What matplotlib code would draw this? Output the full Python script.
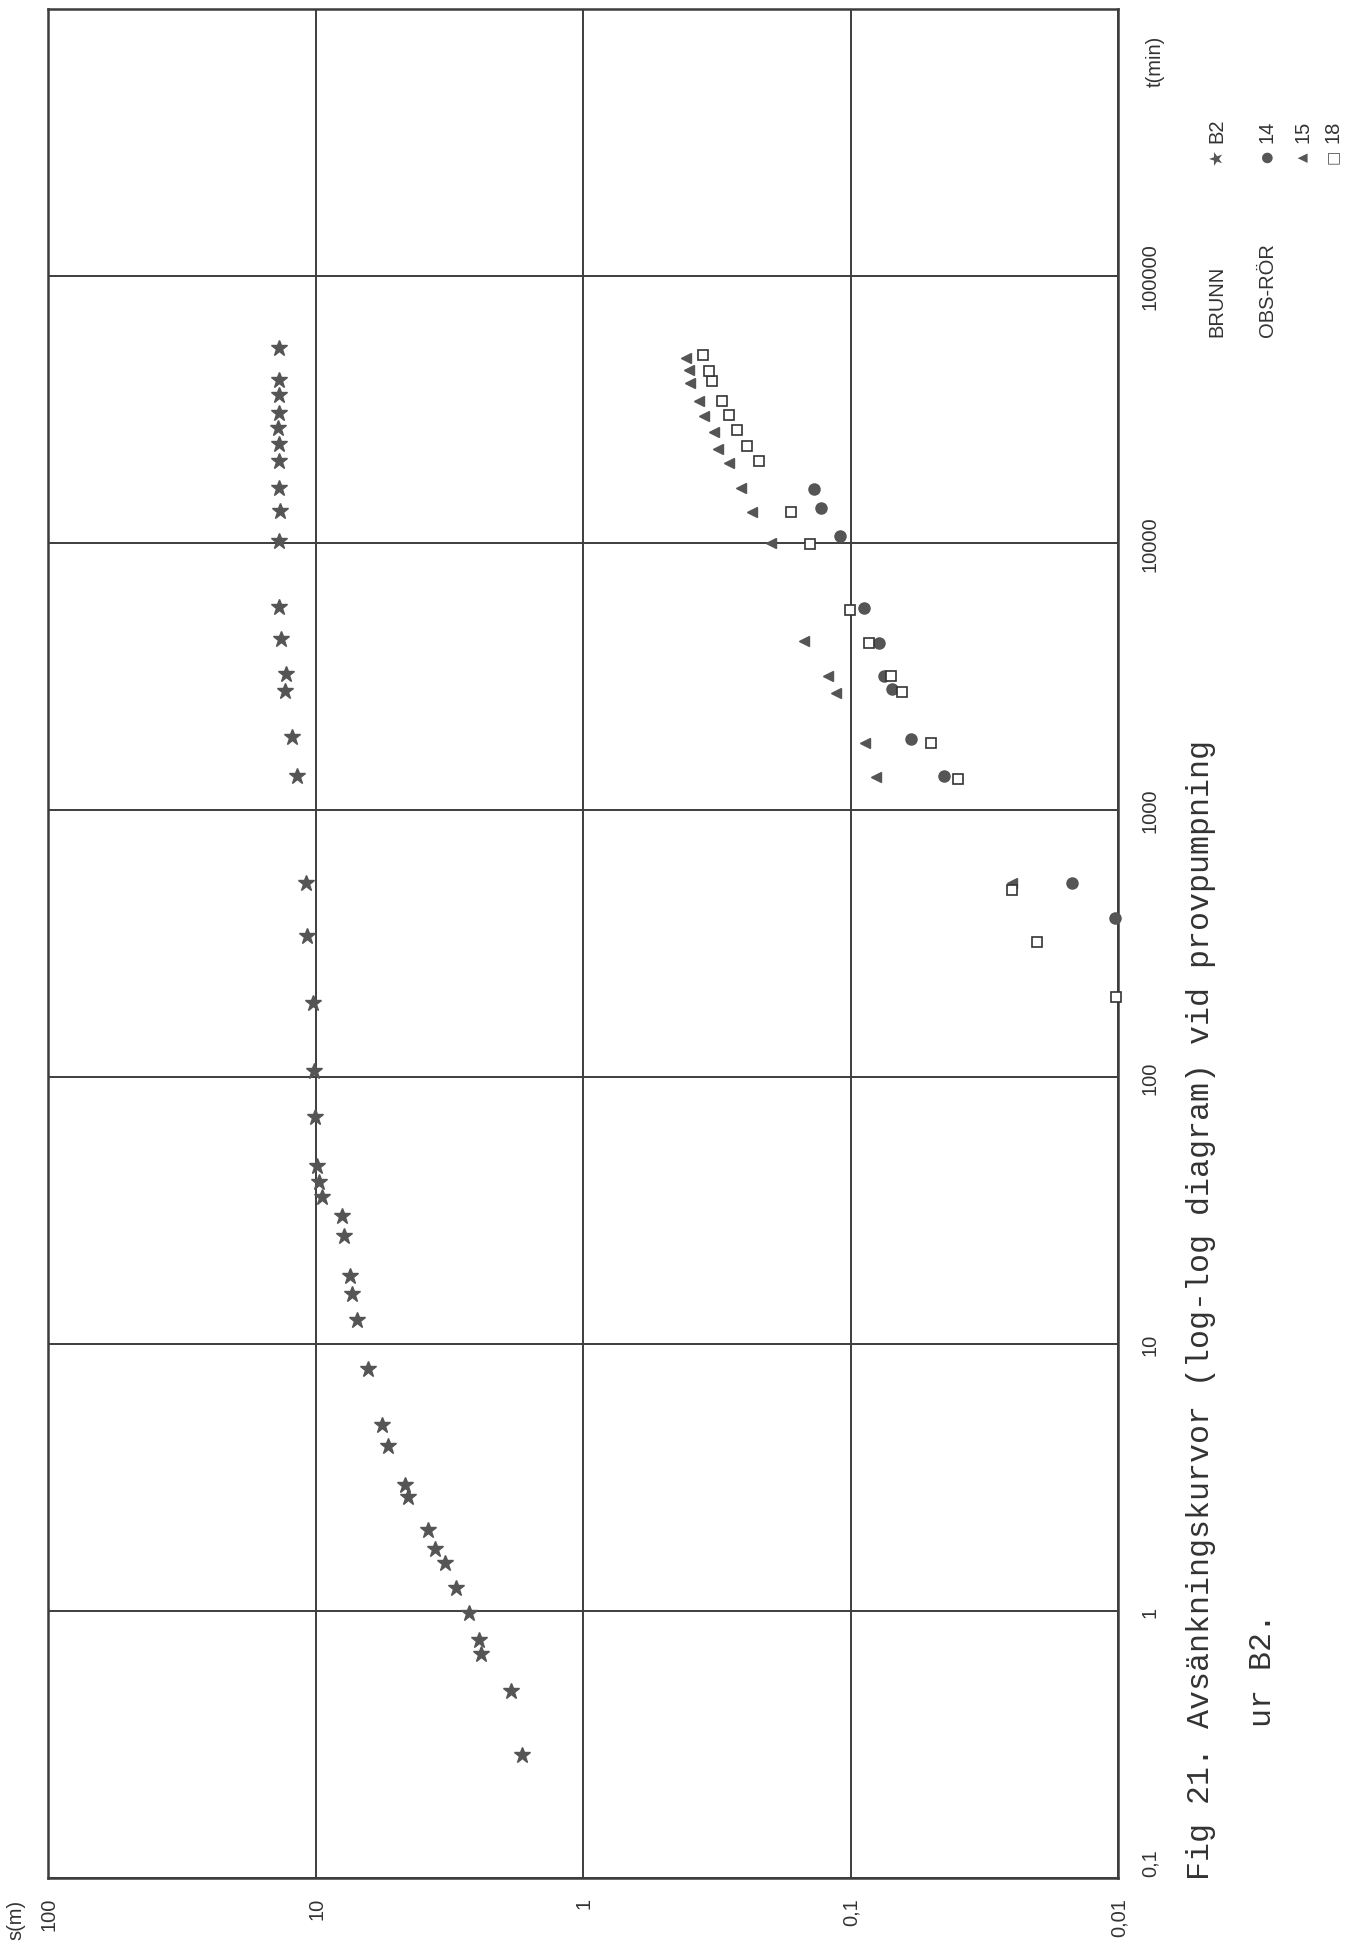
import numpy as np
import matplotlib
matplotlib.use('Agg')
import matplotlib.pyplot as plt

# drawdown s (m) vs time t (min)
b2_t = [0.29, 0.5, 0.69, 0.78, 0.98, 1.22, 1.51, 1.71, 2.01, 2.68, 2.96,
        4.15, 4.99, 8.04, 12.3, 15.4, 18.0, 25.4, 30.1, 35.4, 40.6, 46.6,
        71, 105, 190, 338, 533, 1343, 1880, 2795, 3230, 4378, 5770,
        10160, 13220, 16110, 20300, 23390, 26970, 30680, 35700, 40740, 53700]
b2_s = [1.69, 1.86, 2.41, 2.44, 2.66, 2.98, 3.27, 3.57, 3.80, 4.52, 4.63,
        5.37, 5.66, 6.35, 7.02, 7.28, 7.41, 7.80, 7.96, 9.46, 9.70, 9.90,
        10.07, 10.15, 10.24, 10.75, 10.85, 11.75, 12.24, 13.00, 12.92, 13.46, 13.70,
        13.73, 13.53, 13.70, 13.73, 13.70, 13.80, 13.70, 13.70, 13.73, 13.73]

ob14_t = [393, 532, 1337, 1845, 2840, 3184, 4232, 5693, 10620, 13560, 15890]
ob14_s = [0.0103, 0.0148, 0.0447, 0.0593, 0.0702, 0.0751, 0.0785, 0.0888,
          0.1092, 0.1286, 0.1373]

ob15_t = [532, 1326, 1777, 2750, 3168, 4295, 9975, 13100, 16030, 19890,
          22550, 26040, 29990, 33950, 39850, 44350, 49180]
ob15_s = [0.0248, 0.0803, 0.0885, 0.1130, 0.1214, 0.1492, 0.1982, 0.234,
          0.2573, 0.2852, 0.3128, 0.3238, 0.352, 0.3696, 0.398, 0.4015, 0.413]

ob18_t = [199, 321, 502, 1306, 1777, 2760, 3168, 4232, 5625, 9890, 13030,
          20340, 23140, 26420, 30160, 34120, 40330, 44190, 50750]
ob18_s = [0.0102, 0.0200, 0.0248, 0.0396, 0.0499, 0.0640, 0.0707, 0.0851,
          0.1002, 0.1421, 0.1673, 0.2203, 0.2430, 0.2662, 0.2838, 0.302,
          0.3295, 0.338, 0.356]

s_ticks = [100, 10, 1, 0.1, 0.01]
s_labels = ['100', '10', '1', '0,1', '0,01']
t_ticks = [0.1, 1, 10, 100, 1000, 10000, 100000]
t_labels = ['0,1', '1', '10', '100', '1000', '10000', '100000']

W, H = 1351, 1949
grid_col = '#3d3d3d'
mark_col = '#555555'
txt_col = '#333333'
fs = 14.5
sans = ['Liberation Sans', 'DejaVu Sans']

fig = plt.figure(figsize=(W / 100, H / 100), dpi=100)
ax = fig.add_axes([48 / W, 70 / H, 1070 / W, 1869 / H])
ax.set_xscale('log')
ax.set_yscale('log')
ax.set_xlim(100, 0.01)
ax.set_ylim(0.1, 1e6)
ax.set_xticks(s_ticks)
ax.set_yticks([0.1, 1, 10, 100, 1000, 10000, 100000, 1000000])
ax.minorticks_off()
ax.tick_params(length=0, labelbottom=False, labelleft=False)
ax.grid(True, color=grid_col, linewidth=1.4)
for sp in ax.spines.values():
    sp.set_color(grid_col)
    sp.set_linewidth(1.8)

ax.plot(b2_s, b2_t, ls='none', marker='*', ms=12, color=mark_col,
        mec=mark_col, clip_on=False, zorder=3)
ax.plot(ob14_s, ob14_t, ls='none', marker='o', ms=8, color=mark_col,
        mec=mark_col, clip_on=False, zorder=3)
ax.plot(ob15_s, ob15_t, ls='none', marker='<', ms=7, color=mark_col,
        mec=mark_col, clip_on=False, zorder=3)
ax.plot(ob18_s, ob18_t, ls='none', marker='s', ms=7, mfc='white',
        mec='#333333', mew=1.2, clip_on=False, zorder=4)

# s axis labels along the bottom (page is rotated)
for v, lbl in zip(s_ticks, s_labels):
    ax.annotate(lbl, xy=(v, 0), xycoords=('data', 'axes fraction'),
                xytext=(1, -19), textcoords='offset pixels', rotation=90,
                ha='center', va='top', fontsize=fs, color=txt_col, family=sans)
ax.annotate('s(m)', xy=(100, 0), xycoords=('data', 'axes fraction'),
            xytext=(-32, -21), textcoords='offset pixels', rotation=90,
            ha='center', va='top', fontsize=fs, color=txt_col, family=sans)

# t axis labels on the right
for v, lbl in zip(t_ticks, t_labels):
    va = 'bottom' if v == 0.1 else 'center'
    ax.annotate(lbl, xy=(1, v), xycoords=('axes fraction', 'data'),
                xytext=(32, 2 if v == 0.1 else 0), textcoords='offset pixels',
                rotation=90, ha='center', va=va, fontsize=fs, color=txt_col,
                family=sans)
fig.text(1155 / W, 1 - 61 / H, 't(min)', rotation=90, ha='center',
         va='center', fontsize=fs, color=txt_col, family=sans)

# legend
fig.text(1217 / W, 1 - 337 / H, 'BRUNN', rotation=90, ha='center',
         va='bottom', fontsize=fs, color=txt_col, family=sans)
fig.text(1267 / W, 1 - 337 / H, 'OBS-RÖR', rotation=90, ha='center',
         va='bottom', fontsize=fs, color=txt_col, family=sans)
leg = [(1217, '★', 13, 'B2'), (1267, '●', 10, '14'),
       (1303, '▲', 9, '15'), (1333, '□', 11, '18')]
for xp, glyph, gs, lbl in leg:
    fig.text(xp / W, 1 - 157 / H, glyph, rotation=90, ha='center',
             va='center', fontsize=gs, color=mark_col, family='DejaVu Sans')
    fig.text(xp / W, 1 - 143 / H, lbl, rotation=90, ha='center',
             va='bottom', fontsize=fs, color=txt_col, family=sans)

# caption
cap_kw = dict(rotation=90, ha='center', va='bottom', fontsize=22.8,
              family='Liberation Mono', color=txt_col)
fig.text(1201 / W, 1 - 1880 / H,
         'Fig 21. Avsänkningskurvor (log-log diagram) vid provpumpning', **cap_kw)
fig.text(1263 / W, 1 - 1727 / H, 'ur B2.', **cap_kw)

fig.savefig('out.png', dpi=100, facecolor='white')
